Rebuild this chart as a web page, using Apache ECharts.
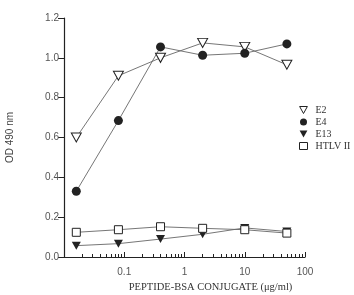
<!DOCTYPE html>
<html lang="en">
<head>
    <meta charset="UTF-8">
    <title>OD 490 nm vs peptide-BSA conjugate</title>
</head>
<body style="margin: 0; background: #fff">
    <div id="main" style="width: 354px; height: 295px"></div>
    <script src="https://cdn.jsdelivr.net/npm/echarts@6.0.0/dist/echarts.min.js"></script>
    <script type="text/javascript">
        // concentration in ug/ml (5-fold dilutions)
        var conc = [0.016, 0.08, 0.4, 2, 10, 50];
        var e2 = [0.60, 0.91, 1.00, 1.075, 1.055, 0.965];
        var e4 = [0.33, 0.685, 1.055, 1.013, 1.023, 1.07];
        var e13 = [0.057, 0.067, 0.09, 0.114, 0.146, 0.128];
        var htlv = [0.124, 0.137, 0.152, 0.144, 0.137, 0.12];

        var xMajor = [0.01, 0.1, 1, 10, 100];
        var xLabels = [0.1, 1, 10, 100];
        var xMinor = [];
        [0.01, 0.1, 1, 10].forEach(function (d) {
            for (var k = 2; k <= 9; k++) xMinor.push(+(d * k).toPrecision(3));
        });

        var downTri = 'path://M0,0 L10,0 L5,9 Z';
        var ink = '#222';

        function pairs(ys) {
            return conc.map(function (c, i) { return [c, ys[i]]; });
        }

        function mkSeries(name, ys, symbol, size, filled) {
            return {
                name: name,
                type: 'line',
                data: pairs(ys),
                symbol: symbol,
                symbolSize: size,
                showAllSymbol: true,
                lineStyle: { color: '#666', width: 0.9 },
                itemStyle: {
                    color: filled ? ink : '#fff',
                    borderColor: ink,
                    borderWidth: filled ? 0 : 1
                },
                emphasis: { disabled: true },
                animation: false
            };
        }

        var chart = echarts.init(document.getElementById('main'));
        var option = {
            backgroundColor: '#fff',
            grid: { left: 64, right: 49, top: 18, bottom: 38, outerBoundsMode: 'none' },
            legend: {
                orient: 'vertical',
                left: 299,
                top: 105,
                padding: 0,
                itemWidth: 8,
                itemHeight: 7,
                itemGap: 2,
                textStyle: { fontFamily: 'Liberation Serif', fontSize: 10, lineHeight: 10, color: '#333', padding: [0, 0, 0, 3] },
                data: [
                    { name: 'E2', icon: downTri, itemStyle: { color: '#fff', borderColor: ink, borderWidth: 1 } },
                    { name: 'E4', icon: 'circle', itemStyle: { color: ink, borderWidth: 0 } },
                    { name: 'E13', icon: downTri, itemStyle: { color: ink, borderWidth: 0 } },
                    { name: 'HTLV II', icon: 'rect', itemStyle: { color: '#fff', borderColor: ink, borderWidth: 1 } }
                ]
            },
            xAxis: [{
                type: 'log',
                logBase: 10,
                min: 0.01,
                max: 100,
                name: 'PEPTIDE-BSA CONJUGATE (\u03bcg/ml)',
                nameLocation: 'middle',
                nameGap: 22,
                nameTextStyle: { fontFamily: 'Liberation Serif', fontSize: 10.5, color: '#333', padding: [0, 0, 0, 52] },
                axisLine: { lineStyle: { color: ink, width: 1.2 } },
                axisTick: { inside: true, length: 5, customValues: xMajor, lineStyle: { color: ink } },
                axisLabel: {
                    customValues: xLabels,
                    fontFamily: 'Liberation Sans', fontSize: 10, color: '#555', margin: 10,
                    formatter: function (v) { return String(v); }
                },
                splitLine: { show: false }
            }, {
                type: 'log',
                logBase: 10,
                min: 0.01,
                max: 100,
                position: 'bottom',
                axisLine: { show: false },
                axisTick: { inside: true, length: 3, customValues: xMinor, lineStyle: { color: ink } },
                axisLabel: { show: false },
                splitLine: { show: false }
            }],
            yAxis: {
                type: 'value',
                min: 0,
                max: 1.2,
                interval: 0.2,
                name: 'OD 490 nm',
                nameLocation: 'middle',
                nameGap: 49,
                nameTextStyle: { fontFamily: 'Liberation Sans', fontSize: 10, color: '#444' },
                axisLine: { show: true, lineStyle: { color: ink, width: 1.2 } },
                axisTick: { show: true, length: 6, lineStyle: { color: ink } },
                axisLabel: {
                    fontFamily: 'Liberation Sans', fontSize: 10, color: '#555', margin: 5,
                    formatter: function (v) { return v.toFixed(1); }
                },
                splitLine: { show: false }
            },
            series: [
                mkSeries('E2', e2, downTri, [10, 9], false),
                mkSeries('E4', e4, 'circle', 9, true),
                mkSeries('E13', e13, downTri, [9, 8], true),
                mkSeries('HTLV II', htlv, 'rect', 8, false)
            ]
        };
        chart.setOption(option);
    </script>
</body>
</html>
